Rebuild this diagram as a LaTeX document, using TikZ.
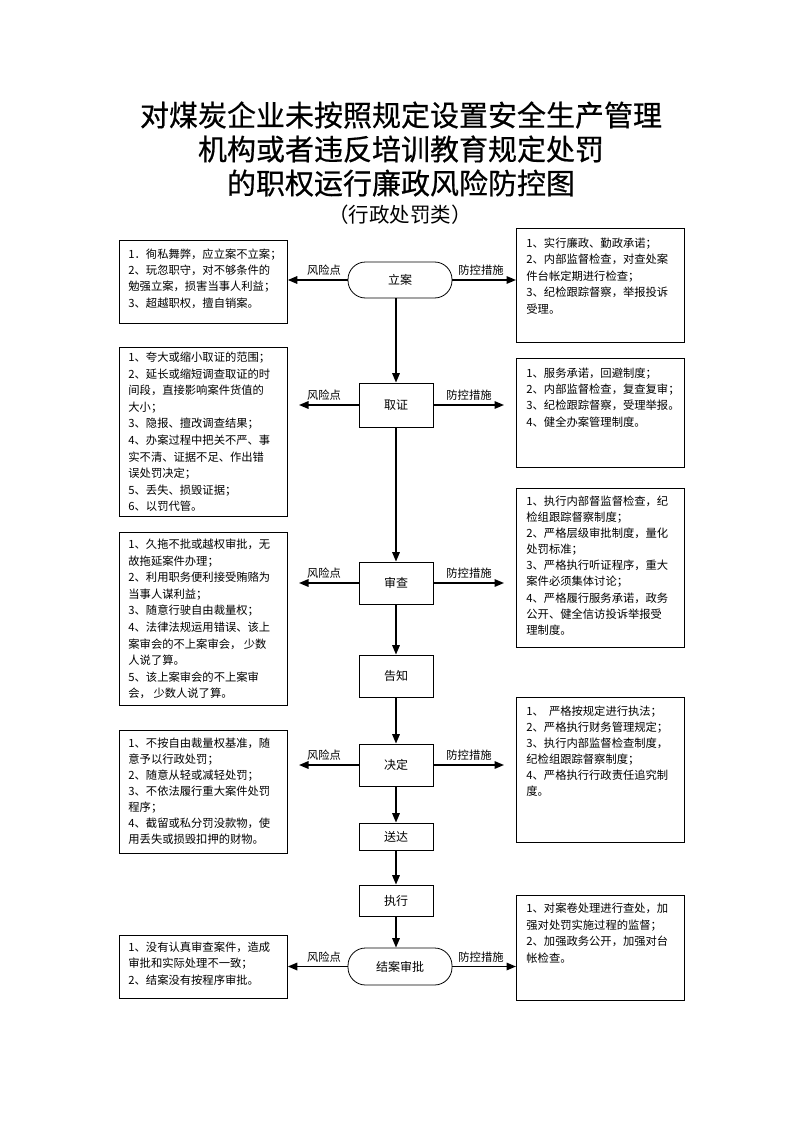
\documentclass[tikz,border=0pt]{standalone}
\usepackage{fontspec}
\setmainfont{Noto Sans CJK SC}
\newfontfamily\titlefont[FakeBold=0.6]{Noto Sans CJK SC}
\usetikzlibrary{arrows.meta}
\newcommand{\bxtext}[5]{\parbox[c][#1][t]{#2}{\fontsize{11.3}{#4}\selectfont\vspace*{#3}#5}}
\begin{document}
\begin{tikzpicture}[x=1pt,y=-1pt,
  flowbox/.style={draw, line width=0.8pt, minimum width=74pt, inner sep=0pt, font=\fontsize{12}{14}\selectfont},
  stadbox/.style={draw, line width=0.8pt, rounded corners=17.5pt, minimum width=104pt, minimum height=36pt, inner sep=0pt, font=\fontsize{12}{14}\selectfont},
  infobox/.style={draw, line width=0.8pt, anchor=north west, inner ysep=0pt},
  conn/.style={line width=1.6pt, -{Triangle[length=9.5pt,width=7.5pt]}},
  lab/.style={font=\fontsize{11.3}{13}\selectfont, inner sep=0pt}
]
\useasboundingbox (0,0) rectangle (794,1123);
% title
\node[font=\titlefont\fontsize{29}{34}\selectfont, align=center, inner sep=0pt] (title) at (401,149) {对煤炭企业未按照规定设置安全生产管理\\机构或者违反培训教育规定处罚\\的职权运行廉政风险防控图};
\node[font=\fontsize{20.5}{22}\selectfont, inner sep=0pt] (sub) at (400,215) {（行政处罚类）};

% flow nodes
\node[stadbox] (la) at (400,280) {立案};
\node[flowbox, minimum height=44pt] (qz) at (396,405) {取证};
\node[flowbox, minimum height=42pt] (sc) at (396,583) {审查};
\node[flowbox, minimum height=42pt] (gz) at (396,676) {告知};
\node[flowbox, minimum height=42pt] (jd) at (396,765) {决定};
\node[flowbox, minimum height=27pt] (sd) at (396,836.5) {送达};
\node[flowbox, minimum height=31pt] (zx) at (396,900.5) {执行};
\node[stadbox, minimum height=37pt] (ja) at (400,966.5) {结案审批};

% left boxes
\node[infobox, inner xsep=9pt] (l1) at (119,240) {\bxtext{83pt}{150pt}{8.3pt}{16.3pt}{1．徇私舞弊，应立案不立案；\\2、玩忽职守，对不够条件的\\勉强立案，损害当事人利益；\\3、超越职权，擅自销案。}};
\node[infobox, inner xsep=9pt] (l2) at (119,347) {\bxtext{169pt}{150pt}{4.5pt}{16.6pt}{1、夸大或缩小取证的范围；\\2、延长或缩短调查取证的时\\间段，直接影响案件货值的\\大小；\\3、隐报、擅改调查结果；\\4、办案过程中把关不严、事\\实不清、证据不足、作出错\\误处罚决定；\\5、丢失、损毁证据；\\6、以罚代管。}};
\node[infobox, inner xsep=9pt] (l3) at (119,532) {\bxtext{173pt}{150pt}{6.5pt}{16.6pt}{1、久拖不批或越权审批，无\\故拖延案件办理；\\2、利用职务便利接受贿赂为\\当事人谋利益；\\3、随意行驶自由裁量权；\\4、法律法规运用错误、该上\\案审会的不上案审会， 少数\\人说了算。\\5、该上案审会的不上案审\\会， 少数人说了算。}};
\node[infobox, inner xsep=9pt] (l4) at (119,730) {\bxtext{123pt}{150pt}{7.5pt}{16pt}{1、不按自由裁量权基准，随\\意予以行政处罚；\\2、随意从轻或减轻处罚；\\3、不依法履行重大案件处罚\\程序；\\4、截留或私分罚没款物，使\\用丢失或损毁扣押的财物。}};
\node[infobox, inner xsep=9pt] (l5) at (119,935) {\bxtext{63pt}{150pt}{6.5pt}{16.5pt}{1、没有认真审查案件，造成\\审批和实际处理不一致；\\2、结案没有按程序审批。}};

% right boxes
\node[infobox, inner xsep=10pt] (r1) at (516,228) {\bxtext{114pt}{148pt}{9.5pt}{16.4pt}{1、实行廉政、勤政承诺；\\2、内部监督检查，对查处案\\件台帐定期进行检查；\\3、纪检跟踪督察，举报投诉\\受理。}};
\node[infobox, inner xsep=10pt] (r2) at (516,358) {\bxtext{109pt}{148pt}{9.5pt}{16.2pt}{1、服务承诺，回避制度；\\2、内部监督检查，复查复审；\\3、纪检跟踪督察，受理举报。\\4、健全办案管理制度。}};
\node[infobox, inner xsep=10pt] (r3) at (516,488) {\bxtext{159pt}{148pt}{7.5pt}{16.1pt}{1、执行内部督监督检查，纪\\检组跟踪督察制度；\\2、严格层级审批制度，量化\\处罚标准；\\3、严格执行听证程序，重大\\案件必须集体讨论；\\4、严格履行服务承诺，政务\\公开、健全信访投诉举报受\\理制度。}};
\node[infobox, inner xsep=10pt] (r4) at (516,697) {\bxtext{145pt}{148pt}{8.5pt}{16pt}{1、\ \ 严格按规定进行执法；\\2、严格执行财务管理规定；\\3、执行内部监督检查制度，\\纪检组跟踪督察制度；\\4、严格执行行政责任追究制\\度。}};
\node[infobox, inner xsep=10pt] (r5) at (516,895) {\bxtext{105pt}{148pt}{7.5pt}{16.6pt}{1、对案卷处理进行查处，加\\强对处罚实施过程的监督；\\2、加强政务公开，加强对台\\帐检查。}};

% vertical flow
\draw[conn] (la.south -| qz.north) -- (qz.north);
\draw[conn] (qz) -- (sc);
\draw[conn] (sc) -- (gz);
\draw[conn] (gz) -- (jd);
\draw[conn] (jd) -- (sd);
\draw[conn] (sd) -- (zx);
\draw[conn] (zx.south) -- (zx.south |- ja.north);

% free ends
\coordinate (qzL) at (299,405); \coordinate (qzR) at (504,405);
\coordinate (scL) at (299,583); \coordinate (scR) at (504,583);
\coordinate (jdL) at (299,765); \coordinate (jdR) at (504,765);

% horizontal connectors
\draw[conn] (la.west) -- (la.west -| l1.east);
\draw[conn] (la.east) -- (la.east -| r1.west);
\draw[conn] (qz.west) -- (qzL);
\draw[conn] (qz.east) -- (qzR);
\draw[conn] (sc.west) -- (scL);
\draw[conn] (sc.east) -- (scR);
\draw[conn] (jd.west) -- (jdL);
\draw[conn] (jd.east) -- (jdR);
\draw[conn] (ja.west) -- (ja.west -| l5.east);
\draw[conn] (ja.east) -- (ja.east -| r5.west);

% labels
\node[lab] (fx1) at (324,270) {风险点};
\node[lab] (fk1) at (481,270) {防控措施};
\node[lab] (fx2) at (324,395) {风险点};
\node[lab] (fk2) at (469,395) {防控措施};
\node[lab] (fx3) at (324,573) {风险点};
\node[lab] (fk3) at (469,573) {防控措施};
\node[lab] (fx4) at (324,755) {风险点};
\node[lab] (fk4) at (469,755) {防控措施};
\node[lab] (fx5) at (324,957) {风险点};
\node[lab] (fk5) at (481,957) {防控措施};
\end{tikzpicture}
\end{document}
